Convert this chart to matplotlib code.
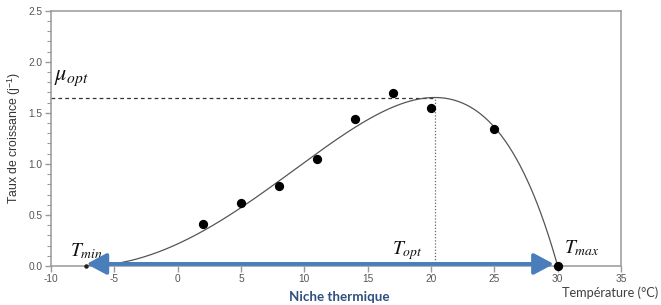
import numpy as np
import matplotlib
matplotlib.use("Agg")
import matplotlib.pyplot as plt
from matplotlib.patches import FancyArrowPatch
from matplotlib.ticker import MultipleLocator

# Observed data
temp_obs = [2, 5, 8, 11, 14, 17, 20, 25, 30]
rate_obs = [0.41, 0.62, 0.78, 1.05, 1.44, 1.69, 1.55, 1.34, 0.0]

# Cardinal parameters of the fitted model
T_min = -7.2
T_opt = 20.3
T_max = 30.0
mu_opt = 1.65

x_ticks = [-10, -5, 0, 5, 10, 15, 20, 25, 30, 35]
y_ticks = [0.0, 0.5, 1.0, 1.5, 2.0, 2.5]


def ctmi(T):
    num = (T - T_max) * (T - T_min) ** 2
    den = (T_opt - T_min) * ((T_opt - T_min) * (T - T_opt)
                             - (T_opt - T_max) * (T_opt + T_min - 2 * T))
    return mu_opt * num / den


plt.rcParams['mathtext.fontset'] = 'stix'

fig = plt.figure(figsize=(6.61, 3.05), dpi=100)
ax = fig.add_axes([51 / 661, 1 - 266 / 305, 570 / 661, (266 - 10.7) / 305])

T = np.linspace(T_min, T_max, 400)
ax.plot(T, ctmi(T), color='#555555', lw=0.9, zorder=2)

# guide lines
ax.plot([-10, T_opt], [mu_opt, mu_opt], color='#333333', lw=0.9,
        ls=(0, (3, 2.5)), zorder=1)
ax.plot([T_opt, T_opt], [0, mu_opt], color='#666666', lw=0.9,
        ls=(0, (1, 1.5)), zorder=1)

ax.scatter(temp_obs, rate_obs, s=32, color='black', zorder=5,
           clip_on=False)
ax.scatter([T_min], [0], s=5, color='#222222', zorder=5, clip_on=False)

# thermal niche arrow
arr = FancyArrowPatch((T_min, 0.02), (T_max - 0.3, 0.02),
                      arrowstyle='<|-|>,head_length=6,head_width=3.2',
                      color='#4A7EBB', lw=2.8, mutation_scale=2,
                      zorder=4, clip_on=False, shrinkA=0, shrinkB=0)
ax.add_patch(arr)

ax.set_xlim(-10, 35)
ax.set_ylim(0, 2.5)
ax.set_xticks(x_ticks)
ax.set_yticks(y_ticks)
ax.set_xticklabels([str(v) for v in x_ticks])
ax.set_yticklabels([f"{v:.1f}" for v in y_ticks])
ax.yaxis.set_minor_locator(MultipleLocator(0.1))

for s in ax.spines.values():
    s.set_color('#999999')
    s.set_linewidth(1.1)

ax.tick_params(axis='both', which='major', direction='out', color='#999999',
               labelcolor='#555555', labelsize=7.3, length=4, width=1,
               pad=2)
ax.tick_params(axis='y', which='minor', direction='out', color='#999999',
               length=3, width=0.8)
for lab in ax.get_xticklabels() + ax.get_yticklabels():
    lab.set_family('Liberation Sans')

ax.set_ylabel('Taux de croissance (j$^{\\mathregular{-1}}$)', fontsize=8.8,
              color='#333333', family='Liberation Sans', labelpad=4)

# annotations
ax.text(-9.75, 1.84, r'$\mu_{opt}$', fontsize=16, color='#111111',
        ha='left', va='center')
ax.text(-8.5, 0.15, r'$T_{min}$', fontsize=14, color='#111111',
        ha='left', va='center')
ax.text(16.9, 0.15, r'$T_{opt}$', fontsize=14, color='#111111',
        ha='left', va='center')
ax.text(30.5, 0.17, r'$T_{max}$', fontsize=14, color='#111111',
        ha='left', va='center')

fig.text(339 / 661, 1 - 297 / 305, 'Niche thermique', fontsize=9.6,
         fontweight='bold', color='#2F4F7F', family='Lato',
         ha='center', va='center')
fig.text(610 / 661, 1 - 293 / 305, 'Température (°C)', fontsize=9.2,
         color='#404040', family='Lato', ha='center', va='center')

fig.savefig('out.png', dpi=100)
